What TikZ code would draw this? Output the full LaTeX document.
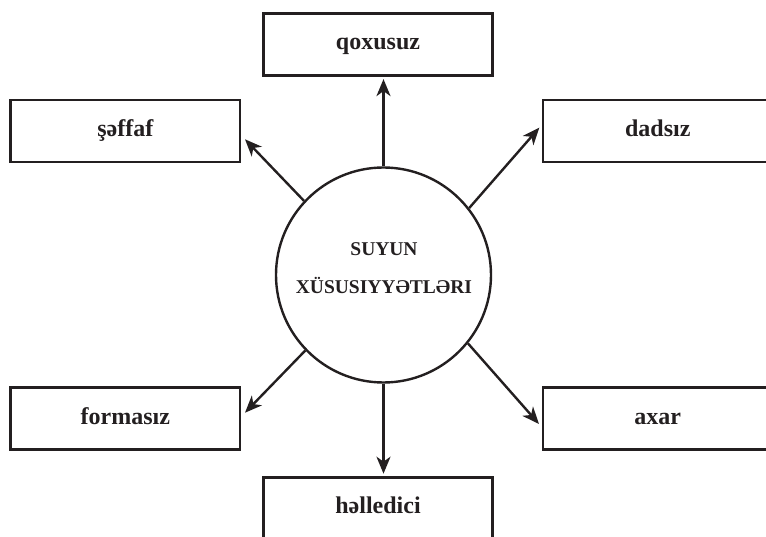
\documentclass[tikz,border=0pt]{standalone}
\usepackage{fontspec}
\setmainfont{Liberation Serif}
\usetikzlibrary{arrows.meta}
\definecolor{ink}{HTML}{231F20}
\begin{document}
\begin{tikzpicture}[x=1pt,y=-1pt,
  box/.style={draw=ink, line width=2.6pt, minimum width=229.4pt, minimum height=62pt,
    inner sep=0pt, text=ink, text height=11pt, text depth=0pt,
    font=\fontsize{24}{26}\selectfont\bfseries},
  hub/.style={draw=ink, circle, line width=2.4pt, minimum size=215pt, inner sep=0pt},
  hubtext/.style={text=ink, align=center, inner sep=0pt,
    font=\fontsize{19.5}{38}\selectfont\bfseries},
  link/.style={draw=ink, line width=2.4pt, -{Stealth[length=17pt,width=14pt,inset=5pt]}}]
\clip (0,0) rectangle (766,537);
\node[box] (q) at (378,44.3) {qoxusuz};
\node[box] (s) at (125.3,131.2) {şəffaf};
\node[box] (d) at (657.8,131.2) {dadsız};
\node[box] (f) at (125.3,418.5) {formasız};
\node[box] (a) at (657.8,418.5) {axar};
\node[box] (h) at (378,508.3) {həlledici};
\node[hub] (c) at (383.5,275) {};
\node[hubtext] (t) at (384,268) {SUYUN\\XÜSUSIYYƏTLƏRI};
\coordinate (ts) at (245,139.3);
\coordinate (td) at (539.3,127.7);
\coordinate (tf) at (245,412.7);
\coordinate (ta) at (539,424);
\draw[link, shorten >=2.5pt] (c.north) -- (c.north |- q.south);
\draw[link, shorten >=2.3pt] (c.south) -- (c.south |- h.north);
\draw[link] (c.137) -- (ts);
\draw[link] (c.38) -- (td);
\draw[link] (c.-136.5) -- (tf);
\draw[link] (c.-39) -- (ta);
\end{tikzpicture}
\end{document}
